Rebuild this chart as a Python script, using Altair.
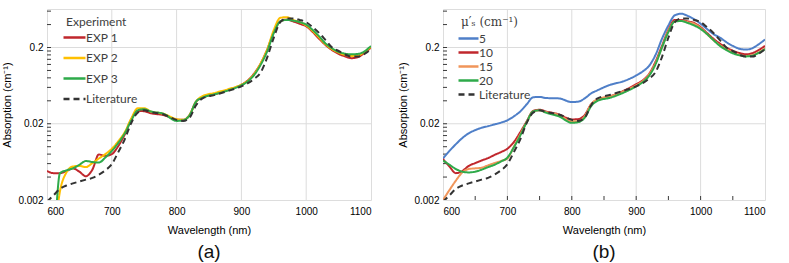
import altair as alt
import pandas as pd

wl = [600, 610, 620, 630, 640, 650, 660, 670, 680, 690, 700, 710, 720, 730, 740, 750, 760, 780,
      800, 810, 820, 830, 840, 860, 880, 900, 910, 920, 930, 940, 950, 960, 970, 980, 990, 1000,
      1010, 1020, 1030, 1040, 1050, 1060, 1070, 1080, 1090, 1100]

literature = [.0019, .0023, .0028, .0031, .0033, .0035, .0037, .0039, .0043, .0049, .0059, .0085,
              .0125, .0205, .028, .030, .0285, .0265, .0225, .0218, .024, .035, .043, .048, .054,
              .062, .068, .078, .095, .15, .27, .43, .48, .48, .46, .43, .37, .31, .25, .20, .18,
              .162, .152, .152, .165, .19]

# Panel (a)
exp1 = [.0048, .0045, .0045, .0048, .0052, .0047, .0041, .0050, .0079, .0076, .0080, .0102, .0145,
        .0230, .0295, .0292, .0275, .026, .0228, .0225, .026, .039, .044, .049, .056, .065, .074,
        .092, .125, .19, .32, .44, .465, .44, .41, .38, .32, .26, .215, .185, .165, .153, .145,
        .15, .17, .20]
exp2 = [.0004, .0006, .0026, .0046, .0055, .0056, .0054, .0061, .0070, .0080, .0094, .0118, .0155,
        .0235, .032, .032, .029, .027, .023, .0225, .026, .039, .046, .051, .057, .065, .073, .090,
        .125, .19, .34, .49, .50, .46, .43, .39, .33, .27, .22, .19, .172, .16, .155, .158, .175,
        .205]
exp3 = [.0004, .0006, .0045, .0049, .0052, .0058, .0065, .0063, .0062, .0072, .0088, .0112, .0150,
        .0220, .030, .031, .029, .027, .0218, .0222, .0258, .039, .044, .049, .055, .064, .072,
        .088, .12, .18, .31, .44, .46, .45, .43, .40, .34, .28, .225, .195, .175, .166, .163, .165,
        .178, .21]

# Panel (b)
mu5 = [.0070, .0088, .0108, .0130, .0150, .0165, .0177, .0186, .0196, .0207, .0222, .025, .029,
       .036, .0445, .0450, .0435, .043, .0385, .039, .043, .050, .055, .065, .072, .086, .097,
       .115, .16, .26, .39, .53, .555, .52, .47, .41, .35, .30, .27, .235, .21, .193, .188, .195,
       .22, .255]
mu10 = [.0069, .0055, .0045, .0048, .0056, .0061, .0066, .0071, .0078, .0085, .0094, .0115, .0155,
        .0215, .0295, .0305, .029, .0265, .0228, .023, .026, .036, .041, .046, .054, .066, .074,
        .090, .13, .21, .34, .46, .46, .44, .42, .37, .31, .26, .225, .20, .182, .170, .163, .168,
        .185, .21]
mu15 = [.0020, .0027, .0036, .0046, .0051, .0052, .0053, .0057, .0061, .0065, .0070, .0100, .0145,
        .0210, .029, .030, .0285, .026, .0215, .0215, .025, .036, .042, .046, .053, .064, .072,
        .088, .125, .20, .33, .44, .45, .43, .41, .36, .30, .25, .215, .19, .172, .16, .155, .158,
        .172, .195]
mu20 = [.0066, .0058, .0051, .0047, .0046, .0047, .0050, .0054, .0058, .0064, .0072, .0098, .0140,
        .0210, .029, .030, .028, .025, .0206, .021, .024, .034, .040, .044, .051, .062, .070, .085,
        .12, .20, .32, .44, .445, .42, .39, .35, .30, .25, .21, .185, .168, .158, .153, .156, .17,
        .19]

series_a = ["EXP 1", "EXP 2", "EXP 3", "Literature"]
colors_a = ["#C0272D", "#FFC000", "#2EAA4A", "#333333"]
series_b = ["5", "10", "15", "20", "Literature"]
colors_b = ["#4F7FC8", "#C0272D", "#F0955A", "#2EAA4A", "#333333"]

y_major = [0.002, 0.02, 0.2]
y_minor = [0.004, 0.006, 0.008, 0.010, 0.012, 0.014, 0.016, 0.018,
           0.04, 0.06, 0.08, 0.10, 0.12, 0.14, 0.16, 0.18, 0.4, 0.6]
x_labels = [600, 700, 800, 900, 1000, 1100]
x_grid = [700, 800, 900, 1000]
x_minor_b = [650, 700, 750, 800, 850, 900, 950, 1000, 1050]

FONT = "Lato"
TXT = "#404040"
FRAME = "#3a3a3a"
Y_DOMAIN = [0.002, 0.64]
SYMBOL = "M-1.6,0H1.6"


def long_df(names, arrays):
    rows = []
    for n, arr in zip(names, arrays):
        for w, v in zip(wl, arr):
            rows.append({"wl": w, "v": v, "series": n})
    return pd.DataFrame(rows)


def panel(df, names, colors, legend_title, title_font, W, H, letter, bottom_ticks,
          sym_size, row_pad, title_pad, leg_x, leg_y):
    xs = alt.Scale(domain=[600, 1100], nice=False)
    ys = alt.Scale(type="log", domain=Y_DOMAIN, nice=False)
    legend = alt.Legend(
        orient="none", legendX=leg_x, legendY=leg_y, title=legend_title,
        titleFont=title_font, titleFontSize=12, titleFontWeight="normal", titleColor=TXT,
        labelFont=FONT, labelFontSize=12, labelColor=TXT, symbolType=SYMBOL,
        symbolSize=sym_size, symbolStrokeWidth=2.3,
        rowPadding=row_pad, titlePadding=title_pad, labelOffset=3,
    )
    dash_range = [[1, 0]] * (len(names) - 1) + [[6, 4]]
    lines = alt.Chart(df).mark_line(interpolate="monotone", strokeWidth=2, clip=True).encode(
        x=alt.X("wl:Q", scale=xs,
                axis=alt.Axis(title="Wavelength (nm)", values=x_labels, format="d",
                              grid=False, ticks=False, labelPadding=6, domain=False,
                              titleFontWeight="normal", titlePadding=8)),
        y=alt.Y("v:Q", scale=ys,
                axis=alt.Axis(title="Absorption (cm⁻¹)", values=y_major, grid=False,
                              ticks=False, labelPadding=4, domain=False, titlePadding=5,
                              titleFontWeight="normal",
                              labelExpr="datum.value < 0.01 ? '0.002' : datum.value < 0.1 ? '0.02' : '0.2'")),
        color=alt.Color("series:N", scale=alt.Scale(domain=names, range=colors), legend=legend),
        strokeDash=alt.StrokeDash("series:N", scale=alt.Scale(domain=names, range=dash_range),
                                  legend=legend),
    )
    grid_y = alt.Chart(pd.DataFrame({"v": [0.02, 0.2]})).mark_rule(
        color="#dcdcdc", strokeWidth=1).encode(y=alt.Y("v:Q", scale=ys))
    grid_x = alt.Chart(pd.DataFrame({"wl": x_grid})).mark_rule(
        color="#dcdcdc", strokeWidth=1).encode(x=alt.X("wl:Q", scale=xs))
    ticks_y = alt.Chart(pd.DataFrame({"v": y_major[1:] + y_minor})).mark_rule(
        color=FRAME, strokeWidth=1).encode(
        y=alt.Y("v:Q", scale=ys), x=alt.value(0), x2=alt.value(4))
    layers = [grid_y, grid_x, ticks_y]
    if bottom_ticks:
        ticks_x = alt.Chart(pd.DataFrame({"wl": x_minor_b})).mark_rule(
            color=FRAME, strokeWidth=1).encode(
            x=alt.X("wl:Q", scale=xs), y=alt.value(H), y2=alt.value(H - 4))
        layers.append(ticks_x)
    layers.append(lines)
    return alt.layer(*layers).properties(
        width=W, height=H,
        title=alt.TitleParams(letter, orient="bottom", fontSize=19, font="Liberation Sans",
                              fontWeight="normal", color="#111111", offset=8),
    )


df_a = long_df(series_a, [exp1, exp2, exp3, literature])
df_b = long_df(series_b, [mu5, mu10, mu15, mu20, literature])

pa = panel(df_a, series_a, colors_a, "Experiment", FONT, 324, 191, "(a)", False,
           189, 5.5, 0, 19, 8)
pb = panel(df_b, series_b, colors_b, "μ′ₛ (cm⁻¹)", "DejaVu Serif", 322, 191, "(b)", True,
           156, 0, 2, 18, 8)

chart = alt.hconcat(pa, pb, spacing=25).resolve_scale(
    color="independent", strokeDash="independent"
).properties(
    padding={"left": 1, "top": 8, "right": 0, "bottom": 0}
).configure_view(
    stroke=FRAME, strokeWidth=1.4
).configure_axis(
    labelFont=FONT, labelFontSize=12.5, labelColor=TXT, titleFont=FONT, titleFontSize=12,
    titleFontWeight="normal", titleColor=TXT
).configure(background="white")

chart.save("out.html", embed_options={"renderer": "svg", "actions": False})
